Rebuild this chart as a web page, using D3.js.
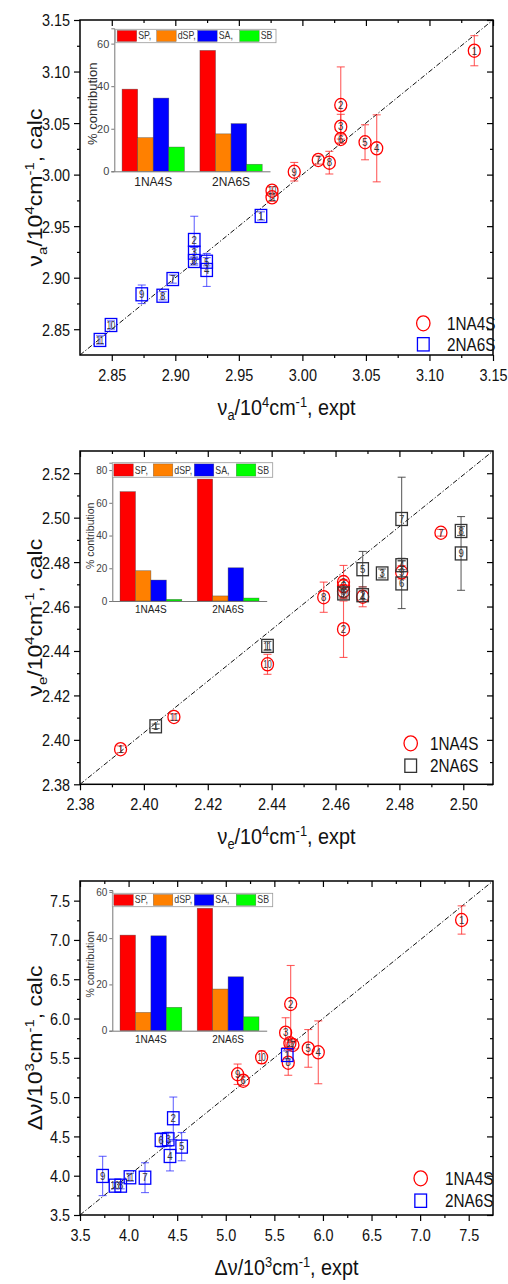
<!DOCTYPE html>
<html><head><meta charset="utf-8">
<script src="https://cdn.jsdelivr.net/npm/d3@7"></script>
<style>
body{margin:0;background:#fff}
svg{display:block}
text{font-family:"Liberation Sans",Arial,sans-serif}
</style>
</head><body>
<svg id="c" width="508" height="1284"></svg>
<script>
// ================= DATA =================
const pointLabels = ["1","2","3","4","5","6","7","8","9","10","11"];
const seriesNames = ["1NA4S","2NA6S"];

// Panel 1: nu_a (10^4 cm^-1)
const vaExpt1NA4S = [3.1353,3.0302,3.0302,3.0585,3.0493,3.0302,3.0125,3.0212,2.9936,2.9761,2.9761];
const vaCalc1NA4S = [3.1202,3.0675,3.0465,3.0255,3.0314,3.0346,3.0142,3.0116,3.0028,2.9844,2.9780];
const vaErr1NA4S  = [0.0146,0.037,0.012,0.0325,0.017,0.004,0.004,0.011,0.009,0.004,0.004];
const vaExpt2NA6S = [2.9674,2.9149,2.9149,2.9247,2.9247,2.9149,2.8980,2.8901,2.8736,2.8494,2.8407];
const vaCalc2NA6S = [2.9599,2.9366,2.9243,2.9075,2.9155,2.9162,2.8987,2.8825,2.8839,2.8541,2.8396];
const vaErr2NA6S  = [0.004,0.023,0.005,0.016,0.004,0.004,0.004,0.004,0.009,0.004,0.004];
const vaTicks = [2.85,2.90,2.95,3.00,3.05,3.10,3.15];

// Panel 2: nu_e (10^4 cm^-1)
const veExpt1NA4S = [2.3927,2.4625,2.4625,2.4685,2.4625,2.4625,2.4930,2.4563,2.4807,2.4387,2.4094];
const veCalc1NA4S = [2.3958,2.4498,2.4710,2.4644,2.4692,2.4669,2.4932,2.4642,2.4754,2.4340,2.4103];
const veErr1NA4S  = [0.0015,0.0127,0.0075,0.0045,0.003,0.003,0.0015,0.0068,0.003,0.0045,0.0015];
const veExpt2NA6S = [2.4037,2.4685,2.4746,2.4807,2.4685,2.4807,2.4807,2.4993,2.4993,2.4625,2.4387];
const veCalc2NA6S = [2.4061,2.4651,2.4749,2.4786,2.4768,2.4704,2.4994,2.4940,2.4839,2.4659,2.4423];
const veErr2NA6S  = [0.001,0.002,0.002,0.002,0.008,0.0113,0.0188,0.002,0.0166,0.002,0.002];
const veXTicks = [2.38,2.40,2.42,2.44,2.46,2.48,2.50];
const veYTicks = [2.38,2.40,2.42,2.44,2.46,2.48,2.50,2.52];

// Panel 3: delta nu (10^3 cm^-1)
const dvExpt1NA4S = [7.427,5.668,5.616,5.952,5.849,5.180,5.691,5.643,5.122,5.369,5.660];
const dvCalc1NA4S = [7.254,6.185,5.820,5.570,5.620,5.209,5.663,5.438,5.291,5.507,5.685];
const dvErr1NA4S  = [0.18,0.49,0.19,0.40,0.24,0.06,0.05,0.16,0.13,0.08,0.05];
const dvExpt2NA6S = [5.633,4.460,4.408,4.426,4.546,4.333,4.169,3.919,3.733,3.860,4.014];
const dvCalc2NA6S = [5.536,4.731,4.464,4.251,4.370,4.455,3.975,3.873,3.997,3.873,3.980];
const dvErr2NA6S  = [0.05,0.27,0.09,0.19,0.18,0.09,0.19,0.04,0.25,0.04,0.05];
const dvTicks = [3.5,4.0,4.5,5.0,5.5,6.0,6.5,7.0,7.5];

// Insets: % contribution
const insetSeries = ["SP,","dSP,","SA,","SB"];
const insetCategories = ["1NA4S","2NA6S"];
const vaContrib1NA4S = [38.6,15.8,34.4,11.4];
const vaContrib2NA6S = [56.8,17.6,22.4,3.3];
const veContrib1NA4S = [66.8,18.5,12.8,1.0];
const veContrib2NA6S = [74.5,3.1,20.3,1.8];
const dvContrib1NA4S = [41.3,7.9,41.0,10.1];
const dvContrib2NA6S = [52.9,18.0,23.3,6.0];
const vaInsetTicks = [0,20,40,60];
const veInsetTicks = [0,20,40,60,80];
const dvInsetTicks = [0,20,40,60];

// ================= DRAWING =================
const svg = d3.select("#c");
const L = 80, R = 493;
const insetColors = ["#ff0000","#ff8000","#0000ff","#00ff00"];

function rich(sel, parts, F) {
  let shift = 0;
  parts.forEach(p => {
    let target = p.sup ? -0.37*F : p.sub ? 0.22*F : 0;
    const ts = sel.append("tspan").text(p.t).attr("dy", target - shift);
    if (p.sup || p.sub) ts.attr("font-size", 0.65*F);
    shift = target;
  });
}

function minorOf(ticks, dom) {
  const step = ticks[1]-ticks[0];
  const out = [];
  const cand = [ticks[0]-step/2].concat(ticks.map(t => t+step/2));
  const lo = Math.min(dom[0],dom[1]), hi = Math.max(dom[0],dom[1]);
  cand.forEach(c => { if (c > lo + step*0.05 && c < hi - step*0.05) out.push(c); });
  return out;
}

function drawPanel(p) {
  const x = d3.scaleLinear().domain(p.xDom).range([L, R]);
  const y = d3.scaleLinear().domain(p.yDom).range([p.bottom, p.top]);
  const g = svg.append("g");
  const fmt = d3.format(p.fmt);

  // diagonal
  g.append("line")
    .attr("x1", x(p.xDom[0])).attr("y1", y(p.yDom[0]))
    .attr("x2", x(p.xDom[1])).attr("y2", y(p.yDom[1]))
    .attr("stroke", "#111").attr("stroke-width", 1)
    .attr("stroke-dasharray", "5,2,1.2,2");

  // axes
  const xMinor = minorOf(p.xTicks, p.xDom), yMinor = minorOf(p.yTicks, p.yDom);
  const ax = [
    [d3.axisBottom(x).tickValues(p.xTicks).tickSize(6).tickFormat(fmt), `translate(0,${p.bottom})`, "b"],
    [d3.axisBottom(x).tickValues(xMinor).tickSize(3).tickFormat(""), `translate(0,${p.bottom})`, ""],
    [d3.axisTop(x).tickValues(p.xTicks).tickSize(-6).tickFormat(""), `translate(0,${p.top})`, ""],
    [d3.axisTop(x).tickValues(xMinor).tickSize(-3).tickFormat(""), `translate(0,${p.top})`, ""],
    [d3.axisLeft(y).tickValues(p.yTicks).tickSize(6).tickFormat(fmt), `translate(${L},0)`, "l"],
    [d3.axisLeft(y).tickValues(yMinor).tickSize(3).tickFormat(""), `translate(${L},0)`, ""],
    [d3.axisRight(y).tickValues(p.yTicks).tickSize(-6).tickFormat(""), `translate(${R},0)`, ""],
    [d3.axisRight(y).tickValues(yMinor).tickSize(-3).tickFormat(""), `translate(${R},0)`, ""]
  ];
  ax.forEach(([a, tr, kind]) => {
    const ag = g.append("g").attr("transform", tr).call(a);
    ag.select(".domain").remove();
    ag.selectAll("line").attr("stroke", "#000").attr("stroke-width", 1.2);
    const t = ag.selectAll("text").attr("font-size", 17).attr("fill", "#111")
      .attr("font-family", "Liberation Sans, Arial, sans-serif");
    if (kind === "b") t.attr("y", 26).attr("dy", 0).attr("transform", "scale(0.85,1)");
    if (kind === "l") t.attr("x", -10/0.85).attr("dy", "0.35em").attr("transform", "scale(0.85,1)");
  });
  g.append("rect").attr("x", L).attr("y", p.top).attr("width", R-L).attr("height", p.bottom-p.top)
    .attr("fill", "none").attr("stroke", "#000").attr("stroke-width", 1.5);

  // axis titles
  const xt = g.append("text").attr("text-anchor", "middle").attr("font-size", 22).attr("fill", "#111")
    .attr("transform", `translate(${(L+R)/2},${p.bottom+60}) scale(0.9,1)`);
  rich(xt, p.xTitle, 22);
  const yt = g.append("text").attr("text-anchor", "middle").attr("font-size", 23).attr("fill", "#111")
    .attr("transform", `translate(42,${(p.top+p.bottom)/2}) scale(0.9,1) rotate(-90)`);
  rich(yt, p.yTitle, 23);

  // series
  const sers = [
    {xs: p.s1x, ys: p.s1y, es: p.s1e, shape: "c", col: "#ff0000", ecol: "rgba(255,40,40,0.75)"},
    {xs: p.s2x, ys: p.s2y, es: p.s2e, shape: "s", col: p.sqCol, ecol: p.sqErr}
  ];
  sers.forEach(s => {
    const sg = g.append("g");
    s.xs.forEach((xv, i) => {
      const cx = x(xv);
      const e1 = y(s.ys[i] + s.es[i]), e2 = y(s.ys[i] - s.es[i]);
      sg.append("line").attr("x1", cx).attr("x2", cx).attr("y1", e1).attr("y2", e2)
        .attr("stroke", s.ecol).attr("stroke-width", 1.1);
      [e1, e2].forEach(ev => sg.append("line").attr("x1", cx-4).attr("x2", cx+4).attr("y1", ev).attr("y2", ev)
        .attr("stroke", s.ecol).attr("stroke-width", 1.1));
    });
    s.xs.forEach((xv, i) => {
      const cx = x(xv), cy = y(s.ys[i]);
      if (s.shape === "c") {
        sg.append("ellipse").attr("cx", cx).attr("cy", cy).attr("rx", 6).attr("ry", 6.6)
          .attr("fill", "none").attr("stroke", s.col).attr("stroke-width", 1.3);
      } else {
        sg.append("rect").attr("x", cx-5.75).attr("y", cy-6.5).attr("width", 11.5).attr("height", 13)
          .attr("fill", "none").attr("stroke", s.col).attr("stroke-width", 1.3);
      }
      const lab = pointLabels[i];
      sg.append("text").attr("text-anchor", "middle").attr("font-size", 10.5).attr("fill", "#333")
        .attr("transform", `translate(${cx},${cy+3.8}) scale(${lab.length > 1 ? 0.72 : 0.92},1)`)
        .text(lab);
    });
  });

  // legend
  const lg = g.append("g");
  lg.append("ellipse").attr("cx", p.legX).attr("cy", p.legY1).attr("rx", 6.7).attr("ry", 7.5)
    .attr("fill", "none").attr("stroke", "#ff0000").attr("stroke-width", 1.3);
  lg.append("rect").attr("x", p.legX-5.85).attr("y", p.legY2-6.65).attr("width", 11.7).attr("height", 13.3)
    .attr("fill", "none").attr("stroke", p.sqCol).attr("stroke-width", 1.3);
  [p.legY1, p.legY2].forEach((ly, k) => {
    lg.append("text").attr("font-size", 18).attr("fill", "#111")
      .attr("transform", `translate(${p.legTX},${ly+6.5}) scale(0.85,1)`).text(seriesNames[k]);
  });

  // inset
  const ins = p.inset;
  const ig = g.append("g");
  const iy = d3.scaleLinear().domain([0, ins.yMax]).range([ins.y0, ins.y1]);
  const ix = d3.scaleBand().domain(insetCategories).range([ins.x0, ins.x1]).paddingInner(0.2).paddingOuter(0.1);
  const isub = d3.scaleBand().domain(insetSeries).range([0, ix.bandwidth()]);
  [ins.v1, ins.v2].forEach((vals, ci) => {
    vals.forEach((v, si) => {
      ig.append("rect").attr("x", ix(insetCategories[ci]) + isub(insetSeries[si]))
        .attr("y", iy(v)).attr("width", isub.bandwidth()).attr("height", iy(0) - iy(v))
        .attr("fill", insetColors[si]).attr("stroke", "rgba(60,60,60,0.6)").attr("stroke-width", 0.6);
    });
  });
  const iya = ig.append("g").attr("transform", `translate(${ins.x0},0)`)
    .call(d3.axisLeft(iy).tickValues(ins.ticks).tickSize(3).tickPadding(2).tickFormat(d3.format("d")));
  iya.select(".domain").attr("stroke", "#777");
  iya.selectAll("line").attr("stroke", "#777");
  iya.selectAll("text").attr("font-size", ins.tickFs).attr("fill", "#444");
  const ixa = ig.append("g").attr("transform", `translate(0,${ins.y0})`)
    .call(d3.axisBottom(ix).tickSize(0).tickPadding(ins.catPad));
  ixa.select(".domain").attr("stroke", "#777");
  ixa.selectAll("text").attr("font-size", ins.catFs).attr("fill", "#222");
  ig.append("text").attr("text-anchor", "middle").attr("font-size", ins.labFs).attr("fill", "#333")
    .attr("transform", `translate(${ins.labX},${(ins.y0+ins.y1)/2+4}) rotate(-90)`).text("% contribution");
  // inset legend
  const bx = ins.box;
  ig.append("rect").attr("x", bx[0]).attr("y", bx[1]).attr("width", bx[2]-bx[0]).attr("height", bx[3]-bx[1])
    .attr("fill", "#fff").attr("stroke", "#999").attr("stroke-width", 0.8);
  const offs = [1.5, 41, 82, 124];
  insetSeries.forEach((s, i) => {
    ig.append("rect").attr("x", bx[0]+offs[i]).attr("y", bx[1]+1.2).attr("width", 19.5).attr("height", bx[3]-bx[1]-2.4)
      .attr("fill", insetColors[i]).attr("stroke", "rgba(60,60,60,0.6)").attr("stroke-width", 0.5);
    ig.append("text").attr("font-size", 11).attr("fill", "#333")
      .attr("transform", `translate(${bx[0]+offs[i]+21},${bx[3]-3.3}) scale(0.8,1)`).text(s);
  });
}

const nuA = [{t:"ν"},{t:"a",sub:true},{t:"/10"},{t:"4",sup:true},{t:"cm"},{t:"-1",sup:true}];
const nuE = [{t:"ν"},{t:"e",sub:true},{t:"/10"},{t:"4",sup:true},{t:"cm"},{t:"-1",sup:true}];
const dNu = [{t:"Δν/10"},{t:"3",sup:true},{t:"cm"},{t:"-1",sup:true}];

drawPanel({
  top: 20, bottom: 355, xDom: [2.825, 3.15], yDom: [2.825, 3.15],
  xTicks: vaTicks, yTicks: vaTicks, fmt: ".2f",
  xTitle: nuA.concat([{t:", expt"}]), yTitle: nuA.concat([{t:", calc"}]),
  s1x: vaExpt1NA4S, s1y: vaCalc1NA4S, s1e: vaErr1NA4S,
  s2x: vaExpt2NA6S, s2y: vaCalc2NA6S, s2e: vaErr2NA6S,
  sqCol: "#0000ff", sqErr: "rgba(40,40,255,0.7)",
  legX: 423.3, legY1: 323.3, legY2: 344.3, legTX: 447,
  inset: {x0: 114.3, x1: 270, y0: 171.3, y1: 28.3, yMax: 67.2, ticks: vaInsetTicks,
    v1: vaContrib1NA4S, v2: vaContrib2NA6S, tickFs: 11, catFs: 12, catPad: 6, labFs: 13, labX: 97,
    box: [115.7, 29.3, 276, 42.7]}
});

drawPanel({
  top: 451, bottom: 784.3, xDom: [2.38, 2.5093], yDom: [2.38, 2.53],
  xTicks: veXTicks, yTicks: veYTicks, fmt: ".2f",
  xTitle: nuE.concat([{t:", expt"}]), yTitle: nuE.concat([{t:", calc"}]),
  s1x: veExpt1NA4S, s1y: veCalc1NA4S, s1e: veErr1NA4S,
  s2x: veExpt2NA6S, s2y: veCalc2NA6S, s2e: veErr2NA6S,
  sqCol: "#333333", sqErr: "rgba(60,60,60,0.8)",
  legX: 410.7, legY1: 743.3, legY2: 765.7, legTX: 430,
  inset: {x0: 112.3, x1: 266.7, y0: 601, y1: 462.7, yMax: 84.5, ticks: veInsetTicks,
    v1: veContrib1NA4S, v2: veContrib2NA6S, tickFs: 10, catFs: 10, catPad: 5, labFs: 10.5, labX: 94,
    box: [112.3, 462.7, 272.7, 477.3]}
});

drawPanel({
  top: 881, bottom: 1215, xDom: [3.5, 7.75], yDom: [3.5, 7.75],
  xTicks: dvTicks, yTicks: dvTicks, fmt: ".1f",
  xTitle: dNu.concat([{t:", expt"}]), yTitle: dNu.concat([{t:", calc"}]),
  s1x: dvExpt1NA4S, s1y: dvCalc1NA4S, s1e: dvErr1NA4S,
  s2x: dvExpt2NA6S, s2y: dvCalc2NA6S, s2e: dvErr2NA6S,
  sqCol: "#0000ff", sqErr: "rgba(40,40,255,0.7)",
  legX: 420.7, legY1: 1178.3, legY2: 1200.7, legTX: 445,
  inset: {x0: 112.3, x1: 266.7, y0: 1030.7, y1: 890, yMax: 60.8, ticks: dvInsetTicks,
    v1: dvContrib1NA4S, v2: dvContrib2NA6S, tickFs: 10, catFs: 10, catPad: 5, labFs: 10.5, labX: 94,
    box: [112.3, 893.3, 272.7, 906.7]}
});
</script>
</body></html>
